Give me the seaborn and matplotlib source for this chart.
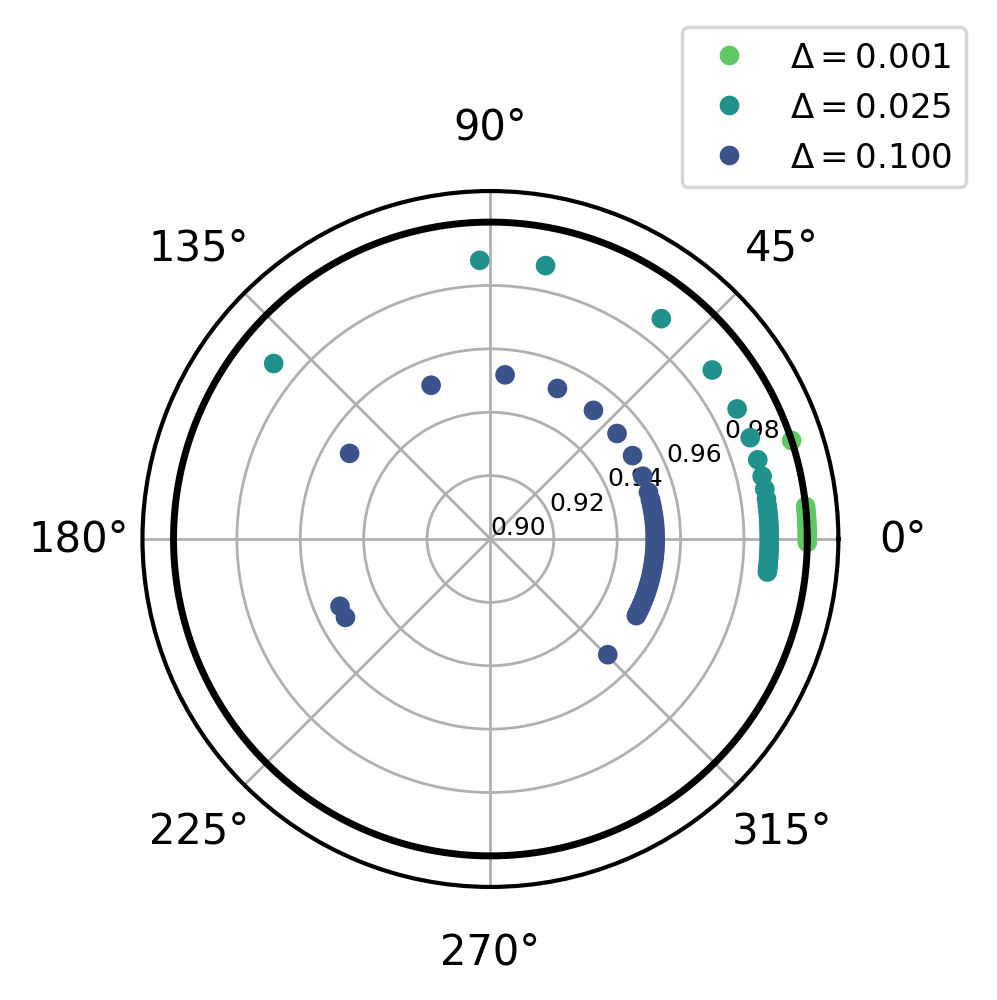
import numpy as np
import pandas as pd
import matplotlib
matplotlib.use("Agg")
import matplotlib.pyplot as plt
import seaborn as sns

# angles in degrees; radius per group
theta_001 = [18.1, 5.9, 5.0, 4.2, 3.4, 2.7, 2.0, 1.4, 0.8, 0.3, -0.2, -0.6]
theta_025 = [141.0, 92.2, 78.6, 52.2, 37.3, 27.8, 21.3, 16.5, 13.0, 10.3,
             8.2, 6.8, 5.6, 4.6, 3.7, 2.9, 2.1, 1.4, 0.7, 0.0, -0.7, -1.4,
             -2.1, -2.8, -3.5, -4.2, -4.9, -5.6, -6.2, -6.8]
theta_100 = [208.4, 204.1, 148.7, 111.1, 84.9, 66.0, 51.3, 39.8, 30.4, 22.4,
             16.5, 13.9, 12.3, 10.8, 9.3, 7.9, 6.5, 5.1, 3.8, 2.5, 1.2, 0.0,
             -1.2, -2.4, -3.6, -4.8, -6.0, -7.2, -8.4, -9.6, -10.8, -12.0,
             -13.3, -14.6, -15.9, -17.2, -18.5, -19.8, -21.1, -22.4, -23.8,
             -25.2, -26.5, -27.7, -44.6]
r_001 = 1.0
r_025 = 0.988
r_100 = 0.952

labels = [r"$\Delta = 0.001$", r"$\Delta = 0.025$", r"$\Delta = 0.100$"]
colors = ["#5ec962", "#21918c", "#3b528b"]

frames = []
for lab, th, r in zip(labels, [theta_001, theta_025, theta_100], [r_001, r_025, r_100]):
    frames.append(pd.DataFrame({"theta": np.deg2rad(th), "r": r, "delta": lab}))
df = pd.concat(frames, ignore_index=True)

fig = plt.figure(figsize=(3.988, 4.004), dpi=250)
ax = fig.add_axes([0.1429, 0.1129, 0.698, 0.6953], projection="polar")

sns.scatterplot(data=df, x="theta", y="r", hue="delta", hue_order=labels,
                palette=colors, s=32, linewidth=0, ax=ax, zorder=3)

# unit circle
circ = np.linspace(0, 2 * np.pi, 500)
ax.plot(circ, np.ones_like(circ), color="black", lw=2.0, zorder=4)

ax.set_ylim(0.9, 1.0098)
ax.set_yticks([0.90, 0.92, 0.94, 0.96, 0.98])
ax.set_yticklabels(["0.90", "0.92", "0.94", "0.96", "0.98"], fontsize=7.2)
ax.tick_params(axis="x", labelsize=12, pad=8)
ax.set_xlabel("")
ax.set_ylabel("")
ax.spines["polar"].set_linewidth(1.2)

sns.move_legend(ax, "upper right", bbox_to_anchor=(0.969, 0.972),
                bbox_transform=fig.transFigure, borderaxespad=0,
                title=None, fontsize=9.8)

fig.savefig("out.png", dpi=250)
